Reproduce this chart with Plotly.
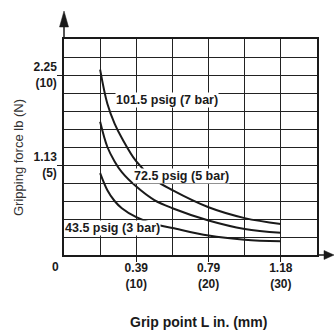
import plotly.graph_objects as go

# Grip point (mm) and gripping force (N)
grip_mm = [5, 6, 7, 8, 10, 12.5, 15, 20, 25, 30]
force_7bar = [10.3, 8.4, 7.3, 6.5, 5.2, 4.2, 3.6, 2.65, 2.05, 1.72]
force_5bar = [7.4, 6.0, 5.2, 4.6, 3.8, 3.05, 2.6, 1.92, 1.45, 1.24]
force_3bar = [4.55, 3.6, 3.0, 2.6, 2.1, 1.72, 1.5, 1.08, 0.85, 0.76]

series_labels = ["101.5 psig (7 bar)", "72.5 psig (5 bar)", "43.5 psig (3 bar)"]
label_pos_x = [7.05, 9.55, 0.05]
label_pos_y = [8.6, 4.4, 1.48]

x_tickvals = [10, 20, 30]
x_ticktext = ["0.39<br>(10)", "0.79<br>(20)", "1.18<br>(30)"]
y_tickvals = [5, 10]
y_ticktext = ["1.13<br>(5)", "2.25<br>(10)"]

FONT = "Liberation Sans Narrow, Arial Narrow, Liberation Sans, Arial, sans-serif"
INK = "#1a1a1a"
GRID = "#222222"

fig = go.Figure()
for ys in [force_7bar, force_5bar, force_3bar]:
    fig.add_trace(go.Scatter(
        x=grip_mm, y=ys, mode="lines",
        line=dict(color=INK, width=2, shape="spline", smoothing=1.0),
        showlegend=False, hoverinfo="skip"))

L, R, T, B = 64, 17, 39, 78
W, H = 334, 333
pw, ph = W - L - R, H - T - B


def px(xp):
    return (xp - L) / pw


def py(yp):
    return (H - B - yp) / ph


shapes = [
    # y-axis extension and arrow
    dict(type="line", xref="paper", yref="paper", x0=0, x1=0, y0=1, y1=py(26),
         line=dict(color=INK, width=1.5)),
    dict(type="path", xref="paper", yref="paper",
         path=f"M {px(64)} {py(11)} L {px(59.5)} {py(27)} L {px(68.5)} {py(27)} Z",
         fillcolor=INK, line=dict(color=INK, width=0.5)),
    # x-axis extension and arrow
    dict(type="line", xref="paper", yref="paper", x0=1, x1=px(326), y0=0, y1=0,
         line=dict(color=INK, width=1.5)),
    dict(type="path", xref="paper", yref="paper",
         path=f"M {px(334)} {py(255)} L {px(324)} {py(250.5)} L {px(324)} {py(259.5)} Z",
         fillcolor=INK, line=dict(color=INK, width=0.5)),
]

annotations = []
for t, ax_, ay_ in zip(series_labels, label_pos_x, label_pos_y):
    annotations.append(dict(x=ax_, y=ay_, xref="x", yref="y", text=t, showarrow=False,
                            xanchor="left", yanchor="middle", bgcolor="white", borderpad=0,
                            font=dict(family=FONT, size=12.5, color=INK, weight="bold")))
annotations += [
    dict(x=px(55), y=py(267), xref="paper", yref="paper", text="0", showarrow=False,
         xanchor="center", yanchor="middle",
         font=dict(family=FONT, size=12, color=INK, weight="bold")),
    dict(x=px(198), y=py(322), xref="paper", yref="paper", text="Grip point L in. (mm)",
         showarrow=False, xanchor="center", yanchor="middle",
         font=dict(family=FONT, size=14, color=INK, weight="bold")),
    dict(x=px(18), y=py(158), xref="paper", yref="paper", text="Gripping force lb (N)",
         showarrow=False, xanchor="center", yanchor="middle", textangle=-90,
         font=dict(family=FONT, size=13, color="#333333")),
]

fig.update_layout(
    width=W, height=H, margin=dict(l=L, r=R, t=T, b=B, autoexpand=False),
    paper_bgcolor="white", plot_bgcolor="white",
    shapes=shapes, annotations=annotations,
    xaxis=dict(range=[0, 35], tickmode="array", tickvals=x_tickvals, ticktext=x_ticktext,
               showgrid=True, gridcolor=GRID, gridwidth=1.3,
               minor=dict(dtick=5, tick0=0, showgrid=True, gridcolor=GRID, gridwidth=1.3, ticks=""),
               showline=True, linecolor=INK, linewidth=1.5, mirror=True,
               ticks="outside", ticklen=5, tickwidth=1.3, tickcolor=INK,
               ticklabelstandoff=-4,
               tickfont=dict(family=FONT, size=12, color=INK, weight="bold"),
               zeroline=False, fixedrange=True),
    yaxis=dict(range=[0, 12], tickmode="array", tickvals=y_tickvals, ticktext=y_ticktext,
               showgrid=True, gridcolor=GRID, gridwidth=1.3,
               minor=dict(dtick=1, tick0=0, showgrid=True, gridcolor=GRID, gridwidth=1.3, ticks=""),
               showline=True, linecolor=INK, linewidth=1.5, mirror=True,
               ticks="outside", ticklen=5, tickwidth=1.3, tickcolor=INK,
               ticklabelstandoff=-2,
               tickfont=dict(family=FONT, size=12, color=INK, weight="bold"),
               zeroline=False, fixedrange=True),
)

fig.write_html("out.html", config={"displayModeBar": False})
